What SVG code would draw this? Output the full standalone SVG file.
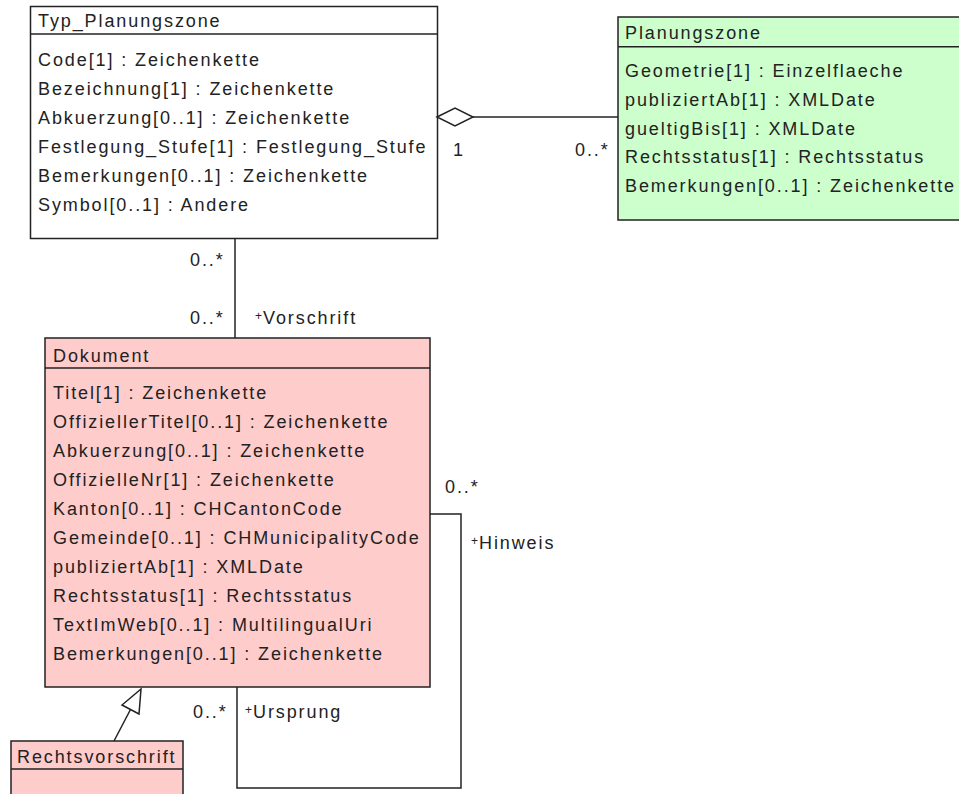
<svg xmlns="http://www.w3.org/2000/svg" width="959" height="794" viewBox="0 0 959 794">
<style>
text{font-family:"Liberation Sans",Arial,sans-serif;font-size:18px;fill:#222;letter-spacing:1.9px}
.box{stroke:#222;stroke-width:1.5}
.ln{stroke:#222;stroke-width:1.5;fill:none}
.plus{font-size:12px;letter-spacing:1px}
</style>
<rect width="959" height="794" fill="#fff"/>
<g id="Typ_Planungszone">
<rect class="box" x="30.5" y="6.5" width="407" height="232" fill="#fff"/>
<line class="ln" x1="30.5" y1="34" x2="437.5" y2="34"/>
<text x="38" y="27">Typ_Planungszone</text>
<text x="38" y="66">Code[1] : Zeichenkette</text>
<text x="38" y="95">Bezeichnung[1] : Zeichenkette</text>
<text x="38" y="124">Abkuerzung[0..1] : Zeichenkette</text>
<text x="38" y="153">Festlegung_Stufe[1] : Festlegung_Stufe</text>
<text x="38" y="182">Bemerkungen[0..1] : Zeichenkette</text>
<text x="38" y="211">Symbol[0..1] : Andere</text>
</g>
<g id="Planungszone">
<rect class="box" x="618" y="17" width="360" height="203" fill="#ccffcc"/>
<line class="ln" x1="618" y1="46.7" x2="978" y2="46.7"/>
<text x="625" y="39">Planungszone</text>
<text x="625" y="77">Geometrie[1] : Einzelflaeche</text>
<text x="625" y="106">publiziertAb[1] : XMLDate</text>
<text x="625" y="134.5">gueltigBis[1] : XMLDate</text>
<text x="625" y="163">Rechtsstatus[1] : Rechtsstatus</text>
<text x="625" y="192">Bemerkungen[0..1] : Zeichenkette</text>
</g>
<g id="Dokument">
<rect class="box" x="45" y="338" width="385" height="349" fill="#ffcccc"/>
<line class="ln" x1="45" y1="368" x2="430" y2="368"/>
<text x="53" y="362">Dokument</text>
<text x="53" y="398.5">Titel[1] : Zeichenkette</text>
<text x="53" y="427.5">OffiziellerTitel[0..1] : Zeichenkette</text>
<text x="53" y="456.5">Abkuerzung[0..1] : Zeichenkette</text>
<text x="53" y="485.5">OffizielleNr[1] : Zeichenkette</text>
<text x="53" y="514.5">Kanton[0..1] : CHCantonCode</text>
<text x="53" y="543.5">Gemeinde[0..1] : CHMunicipalityCode</text>
<text x="53" y="572.5">publiziertAb[1] : XMLDate</text>
<text x="53" y="601.5">Rechtsstatus[1] : Rechtsstatus</text>
<text x="53" y="630.5">TextImWeb[0..1] : MultilingualUri</text>
<text x="53" y="659.5">Bemerkungen[0..1] : Zeichenkette</text>
</g>
<g id="Rechtsvorschrift">
<rect class="box" x="11" y="741" width="172" height="80" fill="#ffcccc"/>
<line class="ln" x1="11" y1="769" x2="183" y2="769"/>
<text x="17" y="763">Rechtsvorschrift</text>
</g>
<g id="connectors">
<polygon class="ln" points="437,117 455,108 473,117 455,126" fill="#fff"/>
<line class="ln" x1="473" y1="117" x2="618" y2="117"/>
<line class="ln" x1="235" y1="238.5" x2="235" y2="338"/>
<polyline class="ln" points="430,514 461,514 461,788 237,788 237,687"/>
<line class="ln" x1="114" y1="741" x2="130.5" y2="709.5"/>
<polygon class="ln" points="141,689 122,705 139,714" fill="#fff"/>
<text x="453" y="156">1</text>
<text x="575" y="156">0..*</text>
<text x="190" y="266">0..*</text>
<text x="190" y="324">0..*</text>
<text x="255" y="324"><tspan class="plus" dy="-4">+</tspan><tspan dy="4">Vorschrift</tspan></text>
<text x="445" y="493">0..*</text>
<text x="471" y="549"><tspan class="plus" dy="-4">+</tspan><tspan dy="4">Hinweis</tspan></text>
<text x="193" y="718">0..*</text>
<text x="245" y="718"><tspan class="plus" dy="-4">+</tspan><tspan dy="4">Ursprung</tspan></text>
</g>
</svg>
